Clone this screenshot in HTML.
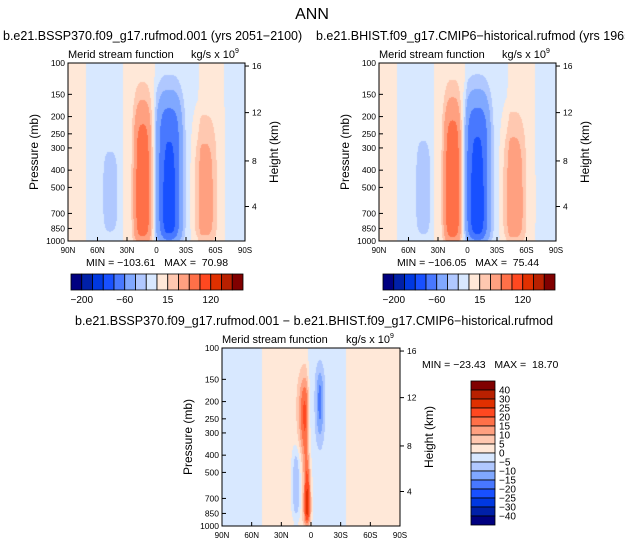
<!DOCTYPE html>
<html><head><meta charset="utf-8">
<style>
body{margin:0;background:#fff;width:625px;height:547px;overflow:hidden;position:relative;font-family:"Liberation Sans",sans-serif}
canvas{position:absolute}
svg{position:absolute;left:0;top:0}
</style></head>
<body>
<canvas id="c1" width="177" height="178" style="left:68px;top:63px"></canvas>
<canvas id="c2" width="177" height="178" style="left:379px;top:63px"></canvas>
<canvas id="c3" width="178" height="178" style="left:222px;top:348px"></canvas>
<svg id="s" width="625" height="547"></svg>
<script>
// ---- data ----
const topLevels=[-200,-150,-120,-90,-60,-30,-15,0,15,30,60,90,120,150,200];
const topColors=['#000080','#0020a8','#0038e0','#1850ff','#4878ff','#80a8ff','#b0c8ff','#d8e8ff','#ffe8d8','#ffc8b0','#ffa080','#ff7048','#ff4820','#e03000','#b82000','#800000'];
const diffLevels=[-40,-30,-25,-20,-15,-10,-5,0,5,10,15,20,25,30,40];
const diffLabels=['40','30','25','20','15','10','5','0','\u22125','\u221210','\u221215','\u221220','\u221225','\u221230','\u221240'];
const topBarLabels=['\u2212200','\u221260','15','120'];
const topBarLabelIdx=[0,4,8,12];
const pTicks=[100,150,200,250,300,400,500,700,850,1000];
const hTicks=[16,12,8,4];
const hTickP=[104,190,355,640];
const latTicks=['90N','60N','30N','0','30S','60S','90S'];
const latTickVals=[90,60,30,0,-30,-60,-90];
// background lat profiles
const bg1Lat=[90,73,70,36,33,3,0,-42,-45,-68,-71,-90], bg1Val=[3,3,-5,-5,5,5,-5,-5,3,3,-5,-5];
const bg2Lat=[90,73,70,36,33,3,0,-40,-43,-68,-71,-90], bg2Val=[3,3,-5,-5,5,5,-5,-5,3,3,-5,-5];
const bg3Lat=[90,52,48,5,1,-33,-37,-90], bg3Val=[-3,-3,3,3,-3,-3,3,3];
// cells: lat center, lat width, amplitude, top half-pressure, top sharpness, bottom half-pressure, bottom sharpness
const c1Lat=[14,-13,-13,-49,47], c1W=[9,13,6,12,7.5], c1Amp=[80,-88,-20,38,-25], c1Top=[189,165,430,233,330], c1TopS=[0.2,0.17,0.15,0.22,0.12], c1Bot=[1000,1000,960,1000,850], c1BotS=[0.08,0.07,0.06,0.08,0.1];
const c2Lat=[15,-10,-10,-47,45], c2W=[9,13,6,12,7.5], c2Amp=[84,-90,-21,42,-25], c2Top=[185,165,430,230,290], c2TopS=[0.2,0.17,0.15,0.22,0.14], c2Bot=[1000,1000,960,1000,880], c2BotS=[0.08,0.07,0.06,0.08,0.1];
const c3Lat=[8,3,5,-9,15], c3W=[5,3.5,3.5,4,4.5], c3Amp=[15,22,7,-15,-13], c3Top=[160,480,150,140,380], c3TopS=[0.12,0.15,0.1,0.1,0.1], c3Bot=[360,960,980,300,880], c3BotS=[0.15,0.05,0.05,0.12,0.08];
const stats1=['-103.61','70.98'], stats2=['-106.05','75.44'], stats3=['-23.43','18.70'];

function interp(xs,ys,x){for(let i=0;i<xs.length-1;i++){if(x<=xs[i]&&x>=xs[i+1]){const t=(xs[i]-x)/(xs[i]-xs[i+1]);return ys[i]+t*(ys[i+1]-ys[i]);}}return ys[ys.length-1];}
function sig(x){return 1/(1+Math.exp(-x));}
function field(lat,p,bl,bv,C,pw){
  const surf=Math.max(0,1-Math.exp(-(1010-p)/25));
  let f=interp(bl,bv,lat)*surf;
  for(let i=0;i<C.lat.length;i++){
    const dl=Math.abs((lat-C.lat[i])/C.w[i]);
    const v=sig(Math.log(p/C.top[i])/C.ts[i])*sig(Math.log(C.bot[i]/p)/C.bs[i]);
    f+=C.amp[i]*Math.exp(-Math.pow(dl,pw))*v;
  }
  return f;
}
function hex(c){return [parseInt(c.substr(1,2),16),parseInt(c.substr(3,2),16),parseInt(c.substr(5,2),16)];}
function draw(id,bl,bv,C,pw,levels,colors){
  const cv_=document.getElementById(id),ctx=cv_.getContext('2d'),W=cv_.width,H=cv_.height;
  const img=ctx.createImageData(W,H);const rgb=colors.map(hex);
  for(let y=0;y<H;y++){const p=100*Math.pow(10,(y+0.5)/H);
    for(let x=0;x<W;x++){const lat=90-180*(x+0.5)/W;
      const v=field(lat,p,bl,bv,C,pw);
      let k=0;while(k<levels.length&&v>levels[k])k++;
      const c=(p>997)?[255,255,255]:rgb[k];const o=(y*W+x)*4;
      img.data[o]=c[0];img.data[o+1]=c[1];img.data[o+2]=c[2];img.data[o+3]=255;}}
  ctx.putImageData(img,0,0);
}
const diffColors=topColors.slice();
draw('c1',bg1Lat,bg1Val,{lat:c1Lat,w:c1W,amp:c1Amp,top:c1Top,ts:c1TopS,bot:c1Bot,bs:c1BotS},3,topLevels,topColors);
draw('c2',bg2Lat,bg2Val,{lat:c2Lat,w:c2W,amp:c2Amp,top:c2Top,ts:c2TopS,bot:c2Bot,bs:c2BotS},3,topLevels,topColors);
draw('c3',bg3Lat,bg3Val,{lat:c3Lat,w:c3W,amp:c3Amp,top:c3Top,ts:c3TopS,bot:c3Bot,bs:c3BotS},2,diffLevels,diffColors);

// ---- overlay ----
const S=document.getElementById('s'),NS='http://www.w3.org/2000/svg';
function el(tag,attrs,txt){const e=document.createElementNS(NS,tag);for(const k in attrs)e.setAttribute(k,attrs[k]);if(txt!==undefined)e.textContent=txt;S.appendChild(e);return e;}
function t(x,y,s,txt,name,extra){const e=el('text',Object.assign({x:x,y:y,'font-size':s,fill:'#000'},extra||{}),txt);

return e;}
t(312,19,16,'ANN','figure-title',{'text-anchor':'middle'});
function panel(x0,y0,W,H,title,tx,stats,statX,statY,statAnchor,pfx){
  const ys=p=>y0+H*Math.log10(p/100);
  const xs=l=>x0+W*(90-l)/180;
  t(tx,y0-23,12.5,title,pfx+'-title');
  t(x0,y0-5,11,'Merid stream function',pfx+'-subtitle');
  const u=t(x0+W-54,y0-5,11,'kg/s x 10',pfx+'-units');
  const sup=document.createElementNS(NS,'tspan');sup.setAttribute('font-size','7');sup.setAttribute('dy','-5');sup.textContent='9';u.appendChild(sup);
  const r=el('rect',{x:x0,y:y0,width:W,height:H,fill:'none',stroke:'#000','stroke-width':1});
  
  
  pTicks.forEach(p=>{const y=ys(p);el('line',{x1:x0,x2:x0+4,y1:y,y2:y,stroke:'#000'});
    t(x0-3,y+3,8.5,String(p),pfx+'-pressure-tick',{'text-anchor':'end'});});
  hTicks.forEach((h,i)=>{const y=ys(hTickP[i]);el('line',{x1:x0+W,x2:x0+W+4,y1:y,y2:y,stroke:'#000'});
    t(x0+W+7,y+3,8.5,String(h),pfx+'-height-tick');});
  latTicks.forEach((l,i)=>{const x=xs(latTickVals[i]);el('line',{x1:x,x2:x,y1:y0+H,y2:y0+H-4,stroke:'#000'});
    t(x,y0+H+12,8,l,pfx+'-lat-tick',{'text-anchor':'middle'});});
  t(x0-30,y0+H/2,12,'Pressure (mb)',pfx+'-y-axis-title',{'text-anchor':'middle',transform:`rotate(-90 ${x0-30} ${y0+H/2})`});
  t(x0+W+33,y0+H/2,12,'Height (km)',pfx+'-right-axis-title',{'text-anchor':'middle',transform:`rotate(-90 ${x0+W+33} ${y0+H/2})`});
  t(statX,statY,10.5,'MIN = '+stats[0].replace('-','\u2212')+'\u00a0\u00a0\u00a0MAX =\u00a0\u00a0'+stats[1],pfx+'-min-max',{'text-anchor':statAnchor});
}
panel(68,63,177,178,'b.e21.BSSP370.f09_g17.rufmod.001 (yrs 2051\u22122100)',3,stats1,157,266,'middle','panel-ssp370');
panel(379,63,177,178,'b.e21.BHIST.f09_g17.CMIP6\u2212historical.rufmod (yrs 1965\u22122014)',316,stats2,468,266,'middle','panel-hist');
panel(222,348,178,178,'b.e21.BSSP370.f09_g17.rufmod.001 \u2212 b.e21.BHIST.f09_g17.CMIP6\u2212historical.rufmod',75,stats3,422,368,'start','panel-diff');

// horizontal colorbars
[71,383].forEach((bx,j)=>{const bw=172/16;
  topColors.forEach((c,i)=>{const r=el('rect',{x:bx+i*bw,y:274,width:bw,height:16,fill:c,stroke:'#000','stroke-width':0.8});
    
    });
  topBarLabelIdx.forEach((k,i)=>t(bx+(k+1)*bw,303,10,topBarLabels[i],'colorbar-label',{'text-anchor':'middle'}));
});
// vertical colorbar
const vh=144/16;
diffColors.slice().reverse().forEach((c,i)=>{const r=el('rect',{x:471,y:381+i*vh,width:24,height:vh,fill:c,stroke:'#000','stroke-width':0.8});
  
  });
diffLabels.forEach((l,i)=>t(499,381+(i+1)*vh+3.5,10,l,'diff-colorbar-label'));
</script>
</body></html>
